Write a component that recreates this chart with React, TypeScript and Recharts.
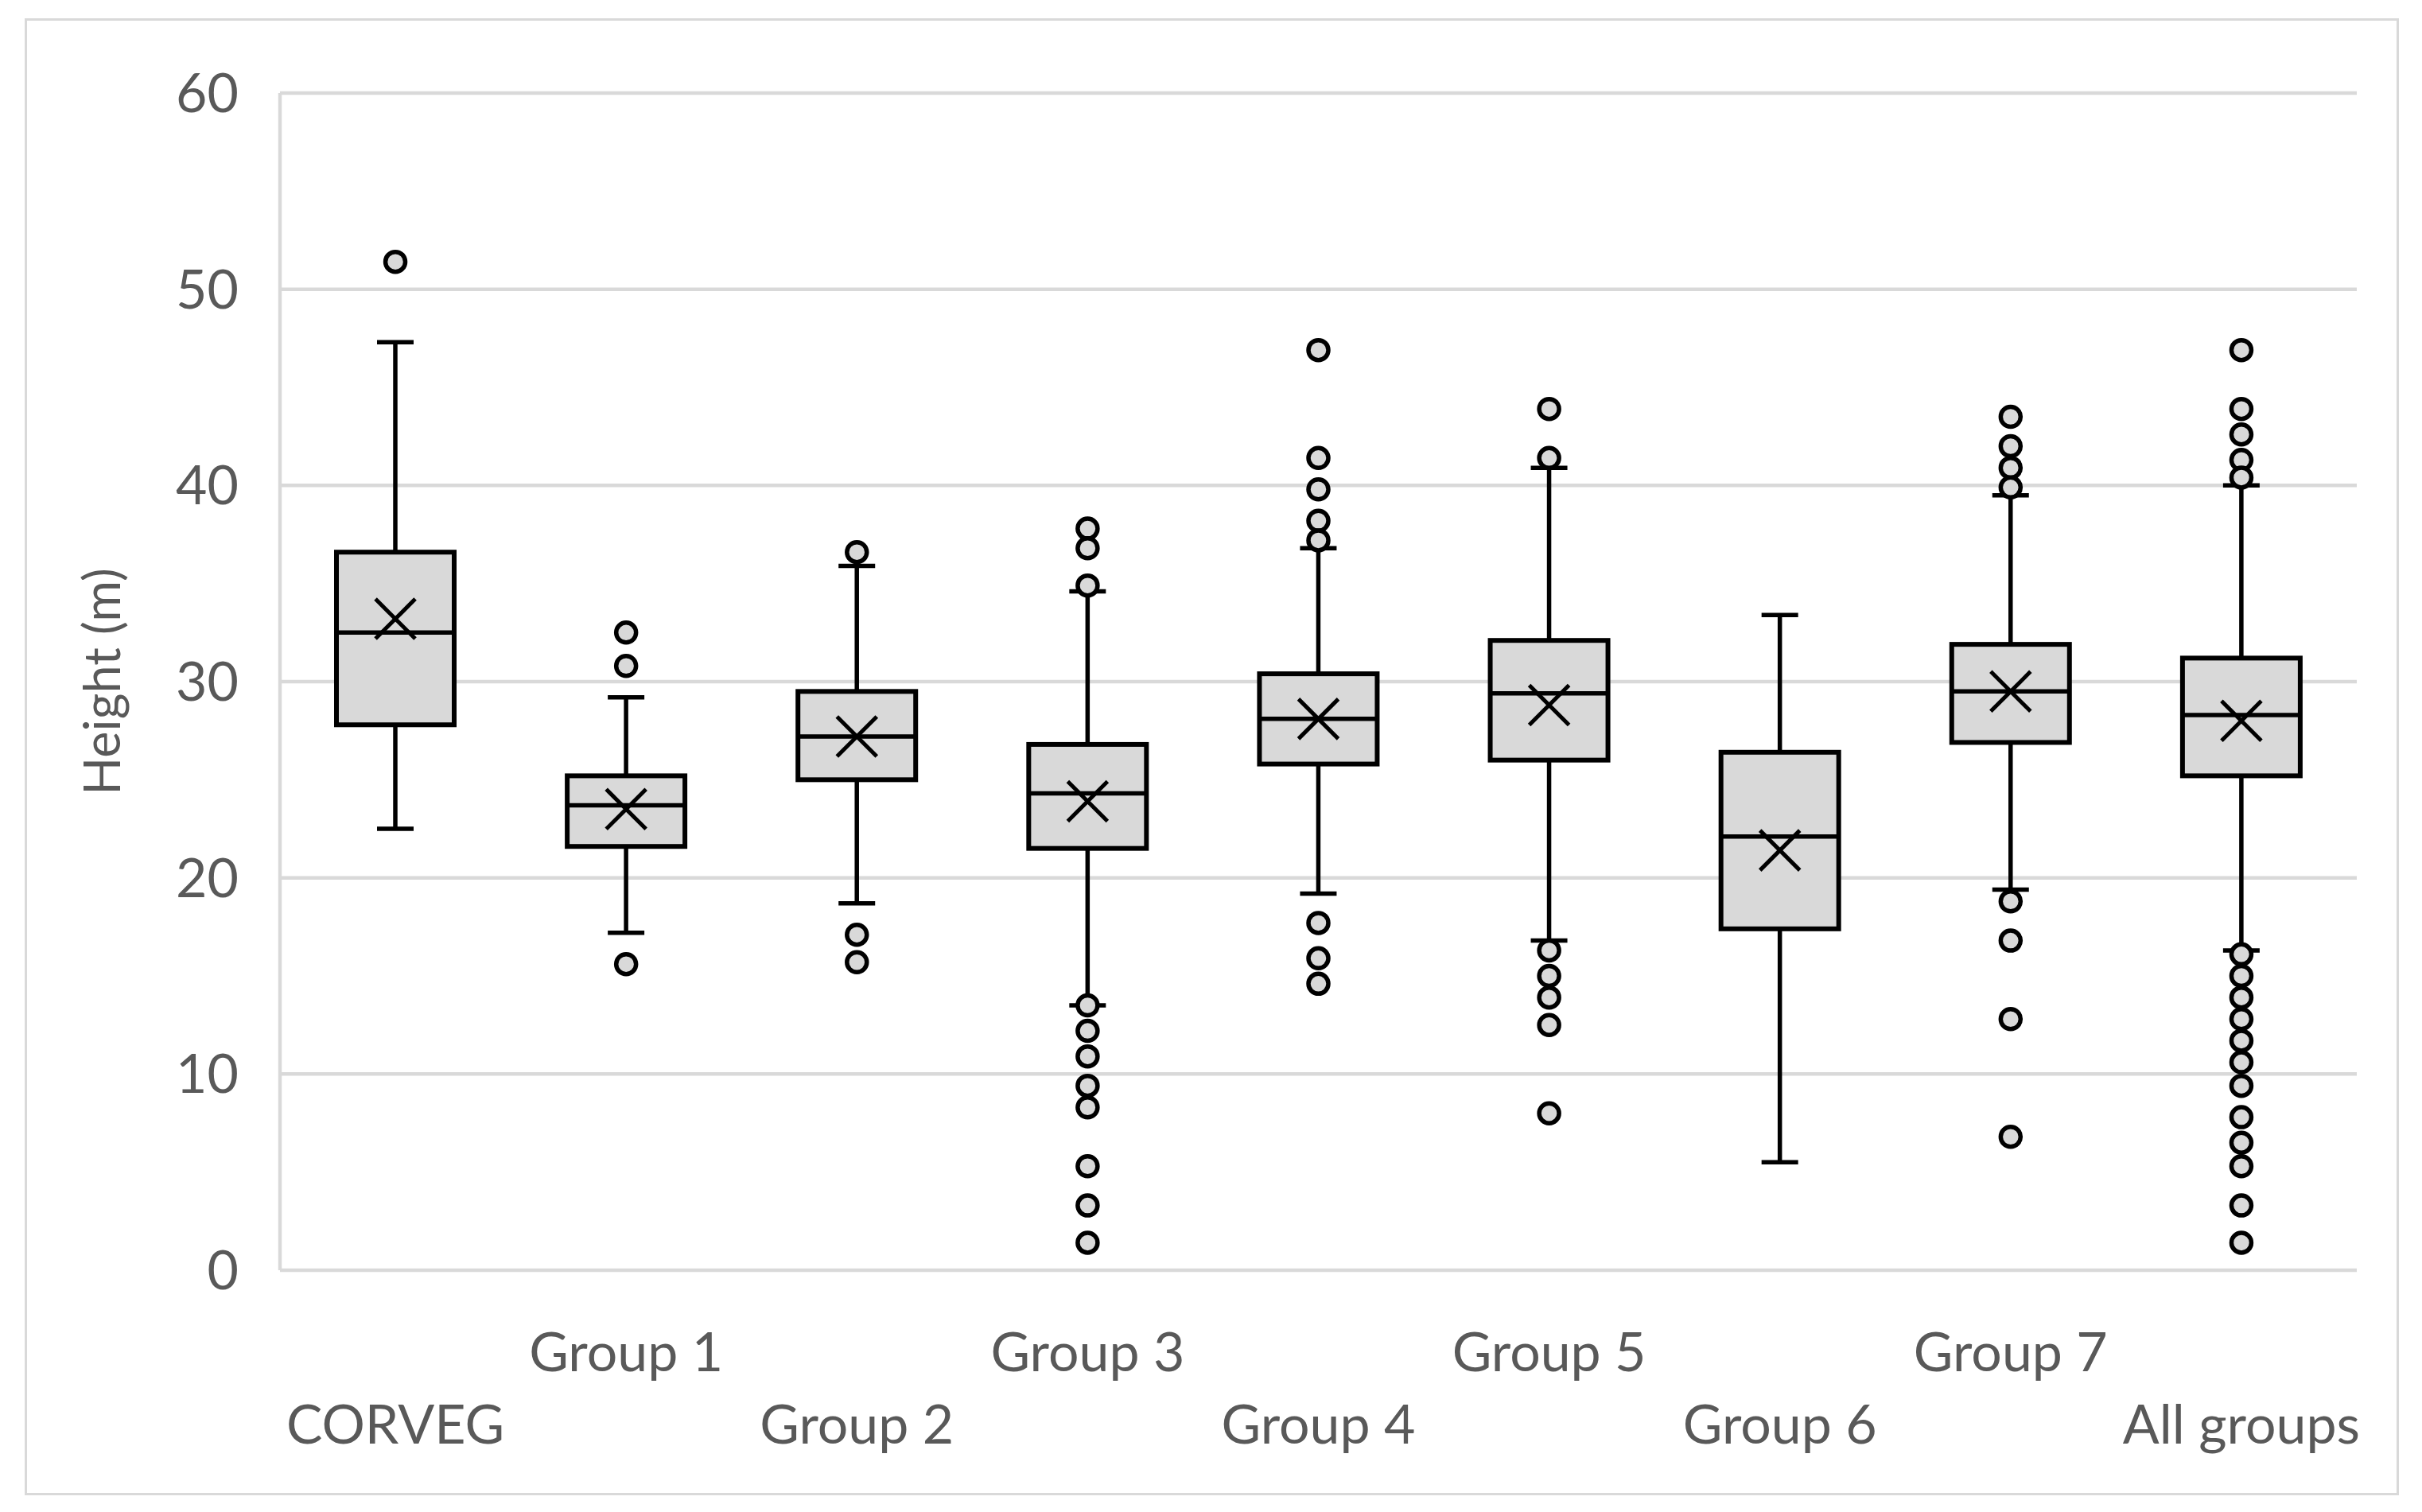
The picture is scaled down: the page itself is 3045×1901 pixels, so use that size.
import React from 'react';
import { ComposedChart, Bar, Scatter, XAxis, YAxis, CartesianGrid } from 'recharts';

const categories = ['CORVEG', 'Group 1', 'Group 2', 'Group 3', 'Group 4', 'Group 5', 'Group 6', 'Group 7', 'All groups'];
const whiskerLow = [22.5, 17.2, 18.7, 13.5, 19.2, 16.8, 5.5, 19.4, 16.3];
const q1 = [27.8, 21.6, 25.0, 21.5, 25.8, 26.0, 17.4, 26.9, 25.2];
const median = [32.5, 23.7, 27.2, 24.3, 28.1, 29.4, 22.1, 29.5, 28.3];
const q3 = [36.6, 25.2, 29.5, 26.8, 30.4, 32.1, 26.4, 31.9, 31.2];
const whiskerHigh = [47.3, 29.2, 35.9, 34.6, 36.8, 40.9, 33.4, 39.5, 40.0];
const means = [33.2, 23.5, 27.2, 23.9, 28.1, 28.8, 21.4, 29.5, 28.0];
const outliers = [
  [51.4],
  [32.5, 30.8, 15.6],
  [36.6, 17.1, 15.7],
  [37.8, 36.8, 34.9, 13.5, 12.2, 10.9, 9.4, 8.3, 5.3, 3.3, 1.4],
  [46.9, 41.4, 39.8, 38.2, 37.2, 17.7, 15.9, 14.6],
  [43.9, 41.4, 16.3, 15.0, 13.9, 12.5, 8.0],
  [],
  [43.5, 42.0, 40.9, 39.9, 18.8, 16.8, 12.8, 6.8],
  [46.9, 43.9, 42.6, 41.3, 40.4, 16.1, 15.0, 13.9, 12.8, 11.7, 10.6, 9.4, 7.8, 6.5, 5.3, 3.3, 1.4],
];
const yTicks = [0, 10, 20, 30, 40, 50, 60];

const boxData = categories.map((name, i) => ({
  name,
  lo: whiskerLow[i],
  q1: q1[i],
  med: median[i],
  q3: q3[i],
  hi: whiskerHigh[i],
  mean: means[i],
}));

const outlierData = categories.flatMap((name, i) => outliers[i].map((v) => ({ name, v })));

const TEXT = '#595959';
const FONT = 'Lato';

// whisker + box + median, all placed from the bar's own [lo, hi] pixel span
const BoxShape = (props: any) => {
  const { x, y, width, height, payload } = props;
  const { lo, hi } = payload;
  const toY = (v: number) => y + (height * (hi - v)) / (hi - lo);
  const cx = x + width / 2;
  const cap = 23;
  return (
    <g>
      <line x1={cx} x2={cx} y1={toY(hi)} y2={toY(lo)} stroke="#000" strokeWidth={5.5} />
      <line x1={cx - cap} x2={cx + cap} y1={toY(hi)} y2={toY(hi)} stroke="#000" strokeWidth={5.5} />
      <line x1={cx - cap} x2={cx + cap} y1={toY(lo)} y2={toY(lo)} stroke="#000" strokeWidth={5.5} />
      <rect
        x={x}
        y={toY(payload.q3)}
        width={width}
        height={toY(payload.q1) - toY(payload.q3)}
        fill="#d9d9d9"
        stroke="#000"
        strokeWidth={6}
      />
      <line x1={x} x2={x + width} y1={toY(payload.med)} y2={toY(payload.med)} stroke="#000" strokeWidth={5.5} />
    </g>
  );
};

const MeanShape = (props: any) => {
  const { cx, cy } = props;
  const s = 25;
  return (
    <g stroke="#000" strokeWidth={5}>
      <line x1={cx - s} y1={cy - s} x2={cx + s} y2={cy + s} />
      <line x1={cx - s} y1={cy + s} x2={cx + s} y2={cy - s} />
    </g>
  );
};

const OutlierShape = (props: any) => {
  const { cx, cy } = props;
  return <circle cx={cx} cy={cy} r={12.5} fill="#d9d9d9" stroke="#000" strokeWidth={5.5} />;
};

const XTick = (props: any) => {
  const { x, y, payload } = props;
  const idx = categories.indexOf(payload.value);
  const upper = idx % 2 === 1;
  return (
    <text x={x} y={y + (upper ? 127 : 218)} textAnchor="middle" fill={TEXT} fontSize={68} fontFamily={FONT}>
      {payload.value}
    </text>
  );
};

const YTitle = (props: any) => {
  const vb = props.viewBox;
  const cx = vb.x + 126;
  const cy = vb.y + vb.height / 2;
  return (
    <text
      x={cx}
      y={cy}
      transform={`rotate(-90 ${cx} ${cy})`}
      textAnchor="middle"
      dominantBaseline="central"
      fill={TEXT}
      fontSize={63}
      fontFamily={FONT}
    >
      Height (m)
    </text>
  );
};

export default function App() {
  return (
    <div style={{ position: 'absolute', left: 0, top: 0, width: 3045, height: 1901, background: '#fff' }}>
      <div
        style={{
          position: 'absolute',
          left: 31,
          top: 23,
          width: 2985,
          height: 1857,
          border: '3px solid #d9d9d9',
          boxSizing: 'border-box',
        }}
      />
      <div style={{ position: 'absolute', left: 0, top: 0 }}>
        <ComposedChart width={3045} height={1901} data={boxData} margin={{ top: 117, right: 82, left: 0, bottom: 0 }}>
          <CartesianGrid vertical={false} stroke="#d9d9d9" strokeWidth={4.5} />
          <XAxis
            dataKey="name"
            allowDuplicatedCategory={false}
            height={304}
            axisLine={false}
            tickLine={false}
            tickSize={0}
            tickMargin={0}
            interval={0}
            tick={<XTick />}
          />
          <YAxis
            domain={[0, 60]}
            ticks={yTicks}
            width={352}
            axisLine={{ stroke: '#d9d9d9', strokeWidth: 4.5 }}
            tickLine={false}
            tickSize={0}
            tickMargin={52}
            tick={{ fill: TEXT, fontSize: 68, fontFamily: FONT }}
            label={{ content: <YTitle /> }}
          />
          <Bar dataKey={(d: any) => [d.lo, d.hi]} barSize={148} shape={<BoxShape />} isAnimationActive={false} />
          <Scatter dataKey="mean" shape={<MeanShape />} isAnimationActive={false} />
          <Scatter data={outlierData} dataKey="v" shape={<OutlierShape />} isAnimationActive={false} />
        </ComposedChart>
      </div>
    </div>
  );
}
